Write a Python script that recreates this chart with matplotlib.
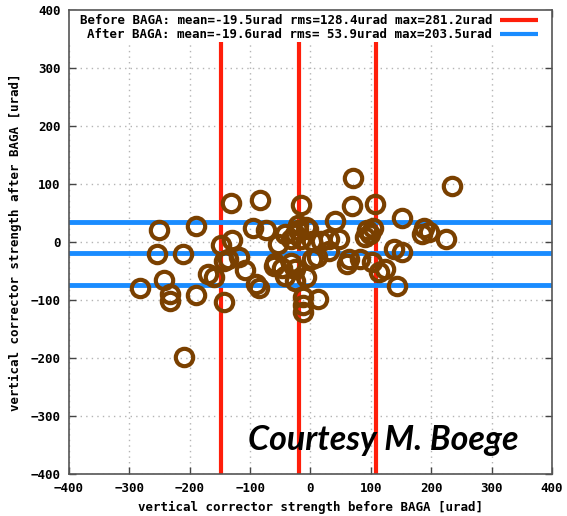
import matplotlib
matplotlib.use("Agg")
import matplotlib.pyplot as plt
from matplotlib.patches import Rectangle

# corrector strengths [urad], before and after BAGA
before = [-282, -251, -254, -243, -232, -233, -210, -212, -190, -190,
          -170, -159, -148, -131, -130, -137, -118, -109, -143, -143,
          -84, -95, -73, -90, -86, -54, -59, -48, -32, -26,
          -43, -15, -15, -32, -26, -20, -7, -20, -4, -43,
          2, 18, 30, 10, 2, -7, 13, -12, -12, -12,
          40, 48, 70, 68, 107, 152, 93, 98, 90, 104,
          63, 60, 82, 102, 113, 123, 138, 152, 143, 188,
          196, 185, 225, 235, -26, -60, 30]
after = [-79, 21, -21, -65, -89, -101, -198, -21, 27, -92,
         -55, -61, -5, 68, 4, -30, -26, -49, -104, -32,
         72, 24, 21, -72, -79, -3, -37, -44, -36, -68,
         -58, 63, 5, 5, 14, 20, 26, 30, 22, 14,
         2, 2, 5, -26, -29, -61, -98, -95, -109, -121,
         37, 5, 111, 62, 65, 42, 20, 14, 9, 25,
         -29, -38, -29, -34, -52, -46, -12, -17, -75, 25,
         17, 14, 5, 97, -46, -41, -15]

before_mean, before_rms, before_max = -19.5, 128.4, 281.2
after_mean, after_rms, after_max = -19.6, 53.9, 203.5

red = "#ff1e0a"
blue = "#1a8cff"
brown = "#7a4000"
mono = "DejaVu Sans Mono"

fig = plt.figure(figsize=(5.67, 5.16), dpi=100)
ax = fig.add_axes([0.1217, 0.0814, 0.8518, 0.8992])

ax.plot(before, after, "o", ms=12.5, mfc="none", mec=brown, mew=3.0, zorder=2)

for v in [before_mean - before_rms, before_mean, before_mean + before_rms]:
    ax.axvline(v, color=red, lw=3, zorder=1.5)
for v in [after_mean - after_rms, after_mean, after_mean + after_rms]:
    ax.axhline(v, color=blue, lw=3.5, zorder=1.5)

ax.set_xlim(-400, 400)
ax.set_ylim(-400, 400)
ticks = range(-400, 401, 100)
ax.set_xticks(ticks)
ax.set_yticks(ticks)
ax.set_axisbelow(True)
ax.grid(True, color="#b4b4b4", linestyle=(0, (1, 3)), lw=1)
ax.tick_params(direction="in", length=5, width=1, top=True, right=True,
               color="#444444", labelsize=9, pad=6)
for lab in ax.get_xticklabels() + ax.get_yticklabels():
    lab.set_fontfamily(mono)
    lab.set_fontweight("bold")
for s in ax.spines.values():
    s.set_color("#555555")
    s.set_linewidth(1.2)
    s.set_zorder(6)

ax.set_xlabel("vertical corrector strength before BAGA [urad]",
              fontfamily=mono, fontweight="bold", fontsize=9, labelpad=4)
ax.set_ylabel("vertical corrector strength after BAGA [urad]",
              fontfamily=mono, fontweight="bold", fontsize=9, labelpad=6)

# key area at the top of the plot
ax.add_patch(Rectangle((0, 0.931), 1, 0.069, transform=ax.transAxes,
                       facecolor="white", edgecolor="none", zorder=4))
rows = [
    ("Before BAGA: mean=%.1furad rms=%5.1furad max=%.1furad"
     % (before_mean, before_rms, before_max), red, 0.978),
    ("After BAGA: mean=%.1furad rms=%5.1furad max=%.1furad"
     % (after_mean, after_rms, after_max), blue, 0.948),
]
for txt, col, yy in rows:
    ax.text(0.876, yy, txt, transform=ax.transAxes, ha="right", va="center",
            fontfamily=mono, fontweight="bold", fontsize=9, zorder=5)
    ax.plot([0.892, 0.971], [yy, yy], color=col, lw=3,
            transform=ax.transAxes, zorder=5, solid_capstyle="butt")

fig.text(0.437, 0.128, "Courtesy M. Boege", fontfamily="Lato",
         fontweight="bold", fontstyle="italic", fontsize=24.5, color="black")

fig.savefig("out.png", dpi=100)
